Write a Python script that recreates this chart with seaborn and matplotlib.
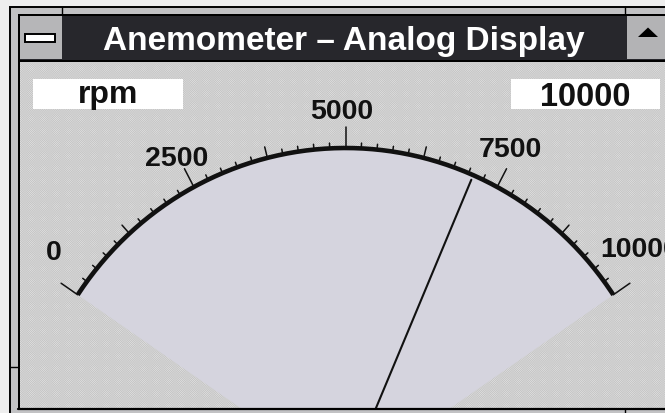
import matplotlib
matplotlib.use("Agg")
import matplotlib.pyplot as plt
from matplotlib.patches import Rectangle, Polygon
import numpy as np
import pandas as pd
import seaborn as sns

sns.set_theme(style="white")
plt.rcParams["font.family"] = ["Liberation Sans", "DejaVu Sans"]
plt.rcParams["hatch.linewidth"] = 0.35

# --- data -------------------------------------------------------------
TITLE = "Anemometer \u2013 Analog Display"
UNITS = "rpm"
FULL_SCALE_TEXT = "10000"
SCALE_MIN, SCALE_MAX = 0, 10000
MAJOR_TICKS = [0, 2500, 5000, 7500, 10000]
MAJOR_LABELS = ["0", "2500", "5000", "7500", "10000"]
MEDIUM_STEP = 1250
MINOR_STEP = 250
READING = 7080

# --- layout (pixels of the 665x414 canvas, y downwards) ----------------
W, H = 665, 414
CX, CY, RX, RY = 345.5, 482, 323, 333       # gauge centre / radii
ANG_START, ANG_SPAN = 146.0, 112.0          # degrees, 0 -> 10000
LABEL_R = [1.135, 1.10, 1.11, 1.12, 1.148]
LABEL_NUDGE = [-3.3, 0.3, 0.6, 0.8, 3.4]    # degrees

DARK = "#27272c"
FRAME = "#c2c2c4"
WEDGE = "#d5d4de"


def to_theta(v):
    frac = (np.asarray(v, dtype=float) - SCALE_MIN) / (SCALE_MAX - SCALE_MIN)
    return np.deg2rad(ANG_START - frac * ANG_SPAN)


fig = plt.figure(figsize=(W / 100, H / 100), dpi=100)
fig.patch.set_facecolor("#eeeeee")

# window chrome, pixel coordinates
bg = fig.add_axes([0, 0, 1, 1], zorder=0)
bg.set_xlim(0, W)
bg.set_ylim(H, 0)
bg.axis("off")


def rect(ax, x0, y0, x1, y1, **kw):
    ax.add_patch(Rectangle((x0, y0), x1 - x0, y1 - y0, **kw))


rect(bg, 10, 8, W + 5, H + 5, facecolor=FRAME, edgecolor="black", lw=1.4)
rect(bg, 18, 15, W + 5, H + 5, facecolor="black", lw=0)
# client area with a dithered look
rect(bg, 20, 63, W + 5, 410, facecolor="#e8e8e8", edgecolor="#c6c6c6",
     hatch="x" * 18, lw=0)
# title bar
rect(bg, 20, 17, W + 5, 60.5, facecolor=DARK, lw=0)
rect(bg, 20, 17, 62, 60, facecolor="#b6b6b8", lw=0)
rect(bg, 25, 35, 55, 43, facecolor="white", edgecolor="black", lw=1.4)
rect(bg, 627, 17, W + 5, 60, facecolor="#b3b3b5", lw=0)
bg.add_patch(Polygon([(638, 38), (658, 38), (648, 28.5)], closed=True,
                     facecolor="black", lw=0))
bg.plot([62, 62], [8, 15], color="black", lw=1)
bg.plot([625, 625], [8, 15], color="black", lw=1)
bg.plot([10, 18], [368, 368], color="black", lw=1)
bg.text(344, 50, TITLE, color="white", fontsize=24, fontweight="bold",
        ha="center", va="baseline")

# read-out boxes
rect(bg, 33, 80, 183, 110, facecolor="white", lw=0)
rect(bg, 511, 80, 660, 110, facecolor="white", lw=0)
bg.text(108, 103, UNITS, fontsize=23, fontweight="bold", ha="center",
        va="baseline", color="#111111")
bg.text(585, 106, FULL_SCALE_TEXT, fontsize=23.5, fontweight="bold",
        ha="center", va="baseline", color="#111111")

# gauge, in units of the dial radius
ax = fig.add_axes([0, 0, 1, 1], zorder=1)
ax.set_xlim(-CX / RX, (W - CX) / RX)
ax.set_ylim((CY - H) / RY, CY / RY)
ax.patch.set_alpha(0)
ax.axis("off")

th = np.linspace(to_theta(SCALE_MIN), to_theta(SCALE_MAX), 200)
ax.fill(np.r_[0, np.cos(th), 0], np.r_[0, np.sin(th), 0], color=WEDGE, lw=0)

arc = pd.DataFrame({"x": np.cos(th), "y": np.sin(th)})
sns.lineplot(data=arc, x="x", y="y", sort=False, estimator=None, ax=ax,
             color="#111111", lw=3.3, solid_capstyle="butt")

minor = np.arange(SCALE_MIN, SCALE_MAX + 1, MINOR_STEP)
for v in minor:
    if v % (2 * MEDIUM_STEP) == 0:
        r1 = 1.062
    elif v % MEDIUM_STEP == 0:
        r1 = 1.034
    else:
        r1 = 1.016
    t = to_theta(v)
    ax.plot([np.cos(t), r1 * np.cos(t)], [np.sin(t), r1 * np.sin(t)],
            color="#111111", lw=1.1)

for v, lab, r, nd in zip(MAJOR_TICKS, MAJOR_LABELS, LABEL_R, LABEL_NUDGE):
    t = to_theta(v) + np.deg2rad(nd)
    ax.text(r * np.cos(t), r * np.sin(t), lab, fontsize=20.5, fontweight="bold",
            ha="center", va="center", color="#111111")

tn = to_theta(READING)
needle = pd.DataFrame({"x": [0.0, 0.985 * np.cos(tn)],
                       "y": [0.0, 0.985 * np.sin(tn)]})
sns.lineplot(data=needle, x="x", y="y", sort=False, estimator=None, ax=ax,
             color="#111111", lw=1.5)

# bottom frame drawn over the dial
fg = fig.add_axes([0, 0, 1, 1], zorder=2)
fg.set_xlim(0, W)
fg.set_ylim(H, 0)
fg.axis("off")
fg.patch.set_alpha(0)
rect(fg, 18, 409.5, W + 5, H + 5, facecolor=FRAME, lw=0)
fg.plot([18, W + 5], [410.5, 410.5], color="black", lw=1.6)
fg.plot([625, 625], [410, H], color="black", lw=1)

fig.savefig("out.png", dpi=100)
